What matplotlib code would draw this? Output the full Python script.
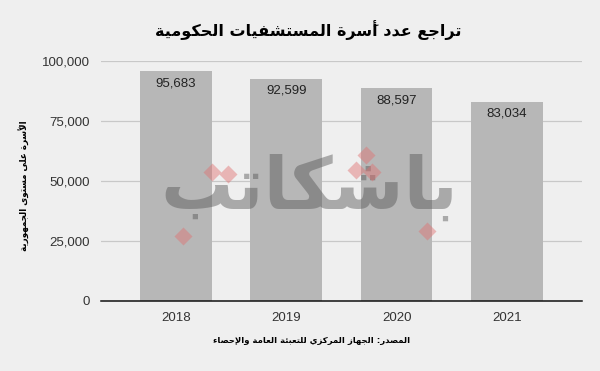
import matplotlib
matplotlib.use('Agg')
import matplotlib.pyplot as plt
from matplotlib.ticker import FuncFormatter

plt.rcParams['font.family'] = ['Liberation Sans', 'DejaVu Sans']

years = ['2018', '2019', '2020', '2021']
beds = [95683, 92599, 88597, 83034]
yticks = [0, 25000, 50000, 75000, 100000]

title = 'تراجع عدد أسَرة المستشفيات الحكومية'
ylabel = 'الأسّرة على مستوى الجمهورية'
source = 'المصدر: الجهاز المركزي للتعبئة العامة والإحصاء'
mark = 'باشكاتب'

# matplotlib has no arabic shaping, so pick presentation forms by hand
TWO = {'آ': 0xFE81, 'أ': 0xFE83, 'ؤ': 0xFE85, 'إ': 0xFE87, 'ا': 0xFE8D, 'ة': 0xFE93,
       'د': 0xFEA9, 'ذ': 0xFEAB, 'ر': 0xFEAD, 'ز': 0xFEAF, 'و': 0xFEED, 'ى': 0xFEEF}
FOUR = {'ئ': 0xFE89, 'ب': 0xFE8F, 'ت': 0xFE95, 'ث': 0xFE99, 'ج': 0xFE9D, 'ح': 0xFEA1,
        'خ': 0xFEA5, 'س': 0xFEB1, 'ش': 0xFEB5, 'ص': 0xFEB9, 'ض': 0xFEBD, 'ط': 0xFEC1,
        'ظ': 0xFEC5, 'ع': 0xFEC9, 'غ': 0xFECD, 'ف': 0xFED1, 'ق': 0xFED5, 'ك': 0xFED9,
        'ل': 0xFEDD, 'م': 0xFEE1, 'ن': 0xFEE5, 'ه': 0xFEE9, 'ي': 0xFEF1}
LAMALEF = {'آ': 0xFEF5, 'أ': 0xFEF7, 'إ': 0xFEF9, 'ا': 0xFEFB}
HARAKAT = set(chr(c) for c in range(0x064B, 0x0653))


def ar(text):
    clusters = []
    for ch in text:
        if ch in HARAKAT and clusters:
            clusters[-1][1] += ch
        elif ch in LAMALEF and clusters and clusters[-1][0] == 'ل' and not clusters[-1][1]:
            clusters[-1][0] = 'لا' + ch
        else:
            clusters.append([ch, ''])

    def kind(b):
        if b.startswith('لا') or b in TWO:
            return 2
        if b in FOUR:
            return 4
        if b == 'ء':
            return 1
        return 0

    out = []
    for i, (b, m) in enumerate(clusters):
        k = kind(b)
        prev = kind(clusters[i - 1][0]) if i > 0 else 0
        nxt = kind(clusters[i + 1][0]) if i + 1 < len(clusters) else 0
        jp = prev == 4 and k > 1
        jn = k == 4 and nxt > 1
        if b.startswith('لا'):
            g = chr(LAMALEF[b[-1]] + (1 if jp else 0))
        elif k == 4:
            g = chr(FOUR[b] + (3 if jp and jn else 1 if jp else 2 if jn else 0))
        elif k == 2:
            g = chr(TWO[b] + (1 if jp else 0))
        elif b == 'ء':
            g = chr(0xFE80)
        else:
            g = b
        out.append(g + m)
    return ''.join(reversed(out))


bg = '#efefef'
fig = plt.figure(figsize=(6, 3.71), dpi=100, facecolor=bg)
ax = fig.add_axes([0.168, 0.189, 0.802, 0.647], facecolor=bg)

x = range(len(years))
ax.bar(x, beds, width=0.65, color='#b7b7b7', zorder=2)
for i, v in enumerate(beds):
    ax.text(i, v - 2500, f'{v:,}', ha='center', va='top', fontsize=9.5,
            color='#222222', zorder=4)

ax.set_xlim(-0.68, 3.68)
ax.set_ylim(0, 100000)
ax.set_yticks(yticks)
ax.yaxis.set_major_formatter(FuncFormatter(lambda v, p: f'{int(v):,}'))
ax.set_xticks(list(x))
ax.set_xticklabels(years)
ax.tick_params(length=0, labelsize=9.5, labelcolor='#333333', pad=8)
ax.grid(axis='y', color='#c8c8c8', lw=0.9, zorder=1)
for s in ax.spines.values():
    s.set_visible(False)
ax.axhline(0, color='#111111', lw=1.1, zorder=3, clip_on=False)

fig.text(0.513, 0.918, ar(title), ha='center', va='center', fontsize=11.5,
         fontweight='bold', family=['DejaVu Sans'])
fig.text(0.04, 0.5, ar(ylabel), ha='center', va='center', rotation=90,
         fontsize=6.3, fontweight='bold', family=['DejaVu Sans'])
fig.text(0.52, 0.083, ar(source), ha='center', va='center', fontsize=6.1,
         fontweight='bold', family=['DejaVu Sans'])

# watermark
fig.text(0.515, 0.49, ar(mark), ha='center', va='center', fontsize=52,
         fontweight='bold', color='#555555', alpha=0.45, family=['DejaVu Sans'],
         zorder=5)
dx = [0.305, 0.353, 0.38, 0.61, 0.593, 0.62, 0.712]
dy = [0.364, 0.536, 0.531, 0.582, 0.542, 0.536, 0.378]
fig.add_artist(plt.Line2D(dx, dy, ls='none', marker='D', ms=9, color='#e07070',
                          alpha=0.45, mec='none', transform=fig.transFigure,
                          zorder=6))

fig.savefig('out.png', dpi=100, facecolor=bg)
